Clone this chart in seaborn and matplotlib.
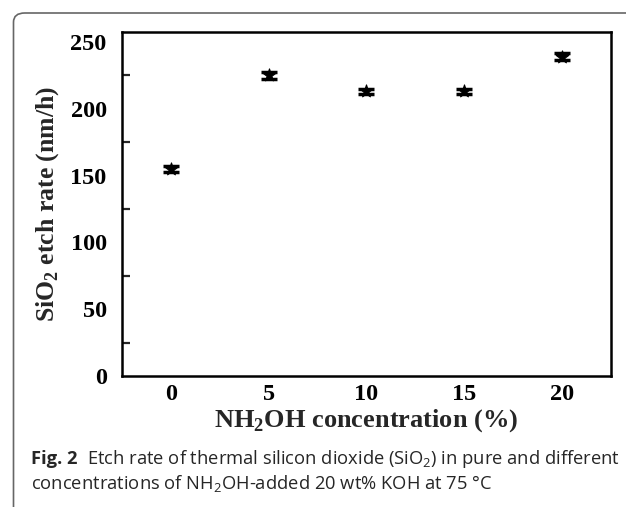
import matplotlib
matplotlib.use("Agg")
import matplotlib.pyplot as plt
import seaborn as sns
import pandas as pd
from matplotlib.patches import FancyBboxPatch

# Data
concentration = [0, 5, 10, 15, 20]
etch_rate = [155, 225, 213, 213, 239]
etch_err = [2.5, 2.5, 2.0, 2.0, 2.5]
xticks = [0, 5, 10, 15, 20]
yticks = [0, 50, 100, 150, 200, 250]

df = pd.DataFrame({"conc": concentration, "rate": etch_rate, "err": etch_err})

sns.set_theme(style="white")
plt.rcParams['font.family'] = ['Liberation Serif', 'DejaVu Serif']
plt.rcParams['mathtext.fontset'] = 'custom'
plt.rcParams['mathtext.rm'] = 'Liberation Serif'
plt.rcParams['mathtext.bf'] = 'Liberation Serif:bold'
plt.rcParams['mathtext.sf'] = 'Open Sans'

W, H = 626, 507
fig = plt.figure(figsize=(W / 100, H / 100), dpi=100)
fig.patch.set_facecolor('white')
ax = fig.add_axes([122 / W, 1 - 376 / H, (610.7 - 122) / W, (376 - 32) / H])

sns.scatterplot(data=df, x="conc", y="rate", ax=ax, marker="*", s=90,
                color="black", edgecolor="black", linewidth=0.8, zorder=3, legend=False)
ax.errorbar(df["conc"], df["rate"], yerr=df["err"], fmt="none", ecolor="black",
            elinewidth=2.2, capsize=6, capthick=2.5, zorder=2)

ax.set_xlim(-2.5, 22.5)
ax.set_ylim(0, 257.5)
ax.set_xticks(xticks)
ax.set_yticks(yticks)
ax.set_yticks([25, 75, 125, 175, 225], minor=True)
ax.set_xticklabels([str(v) for v in xticks], fontsize=17.5, fontweight='bold')
ax.set_yticklabels([str(v) for v in yticks], fontsize=17.5, fontweight='bold')
ax.tick_params(axis='both', which='major', direction='in', length=9.5, width=1.6,
               colors='black', pad=6, top=False, right=False)
ax.tick_params(axis='y', which='minor', direction='in', length=5.5, width=1.6, left=True)
ax.tick_params(axis='x', which='minor', bottom=False)
ax.tick_params(axis='y', which='major', pad=11)
for sp in ax.spines.values():
    sp.set_linewidth(1.8)
    sp.set_color('black')
    sp.set_visible(True)

ax.set_xlabel(r'NH$_\mathbf{2}$OH concentration (%)', fontsize=19, fontweight='bold', labelpad=1)
ax.set_ylabel(r'SiO$_\mathbf{2}$ etch rate (nm/h)', fontsize=18.5, fontweight='bold', labelpad=7)
ax.grid(False)

# Panel frame
frame = FancyBboxPatch((13.5 / W, -0.05), 1.2, (H - 13) / H + 0.05,
                       boxstyle="round,pad=0,rounding_size=0.018",
                       transform=fig.transFigure, fill=False,
                       edgecolor='#666666', linewidth=1.2, zorder=0)
fig.patches.append(frame)

# Caption
cap_font = ['Open Sans', 'DejaVu Sans']
fs = 13.2
fig.text(31 / W, 1 - 459 / H, 'Fig. 2', fontsize=fs, fontweight='bold',
         family=cap_font, va='center', ha='left')
fig.text(87 / W, 1 - 459 / H,
         r'Etch rate of thermal silicon dioxide (SiO$_\mathsf{2}$) in pure and different',
         fontsize=fs, family=cap_font, va='center', ha='left')
fig.text(31 / W, 1 - 484 / H,
         r'concentrations of NH$_\mathsf{2}$OH-added 20 wt% KOH at 75 °C',
         fontsize=fs, family=cap_font, va='center', ha='left')

fig.savefig("out.png", dpi=100, facecolor='white')
